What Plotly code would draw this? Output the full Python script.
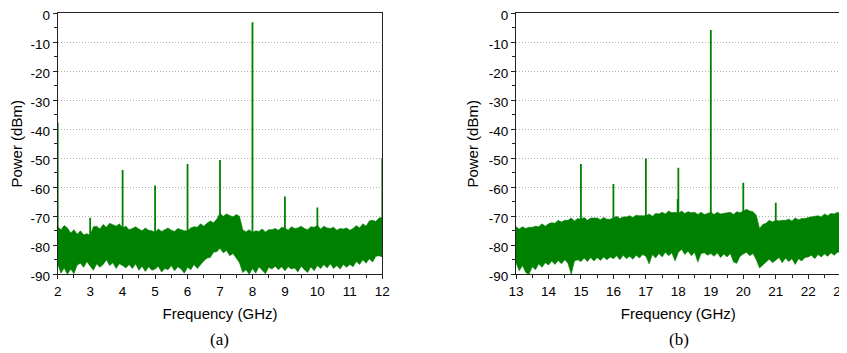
import plotly.graph_objects as go

# ---------------- data ----------------
# sampling grid of the noise-floor envelopes (GHz, 0.1 GHz step)
freq_a = [round(2.0 + 0.1 * i, 1) for i in range(101)]
freq_b = [round(13.0 + 0.1 * i, 1) for i in range(101)]

# panel (a): upper / lower envelope of the noise floor (dBm)
upper_a = [-73.5, -74.6, -73.2, -74.0, -75.8, -74.6, -76.2, -75.0, -76.4, -76.0,
           -76.5, -73.6, -73.4, -74.4, -72.8, -73.8, -72.4, -73.0, -73.4, -72.6,
           -74.0, -73.4, -74.6, -74.2, -73.6, -74.4, -75.0, -74.0, -74.8, -75.0,
           -75.5, -74.4, -75.2, -74.6, -74.0, -74.8, -75.2, -74.2, -74.6, -75.0,
           -75.0, -74.0, -73.6, -73.8, -72.6, -73.4, -72.4, -71.6, -72.2, -71.0,
           -69.0, -70.0, -69.2, -69.8, -70.2, -69.4, -70.0, -74.6, -75.4, -74.6,
           -75.6, -75.0, -75.2, -74.4, -75.4, -74.6, -74.6, -74.2, -74.8, -73.8,
           -74.0, -74.8, -73.6, -74.2, -74.0, -73.4, -74.2, -74.6, -73.6, -73.8,
           -73.2, -74.4, -73.4, -74.0, -74.2, -73.8, -74.8, -74.2, -74.4, -74.0,
           -74.8, -74.2, -73.2, -74.0, -72.6, -73.4, -71.6, -71.4, -71.8, -70.6,
           -70.4]
lower_a = [-86.5, -89.6, -87.8, -90.0, -88.2, -89.8, -86.8, -86.2, -87.6, -85.6,
           -87.2, -88.6, -86.4, -87.6, -86.6, -85.0, -87.0, -86.0, -88.0, -86.4,
           -87.0, -87.8, -86.6, -88.0, -86.4, -88.6, -87.2, -89.0, -87.4, -88.6,
           -88.2, -87.2, -89.2, -88.0, -88.4, -87.0, -88.8, -87.4, -88.2, -89.6,
           -87.6, -88.4, -86.6, -88.0, -86.8, -85.4, -84.4, -84.2, -82.4, -82.2,
           -81.0, -82.6, -81.8, -83.6, -82.8, -84.4, -86.0, -89.4, -88.4, -90.0,
           -88.0, -89.6, -87.4, -88.6, -89.8, -87.6, -88.2, -87.2, -88.4, -87.4,
           -88.8, -87.4, -88.2, -87.8, -89.2, -87.2, -88.4, -89.4, -87.4, -88.8,
           -87.0, -88.0, -86.6, -87.8, -86.4, -88.0, -87.0, -88.2, -86.6, -87.6,
           -86.6, -87.4, -85.6, -86.6, -85.0, -86.2, -84.6, -85.8, -83.8, -83.6,
           -84.0]

# panel (b)
upper_b = [-73.6, -74.4, -73.6, -74.2, -73.8, -73.8, -73.4, -73.6, -72.6, -73.4,
           -72.6, -72.2, -72.4, -71.4, -72.0, -71.4, -71.4, -70.6, -71.6, -70.8,
           -71.0, -70.4, -71.4, -70.6, -70.6, -70.6, -71.2, -70.4, -71.0, -71.0,
           -70.6, -70.0, -70.8, -70.2, -70.2, -69.8, -70.4, -69.6, -69.8, -69.8,
           -69.8, -69.2, -70.0, -69.0, -69.2, -68.6, -69.2, -68.2, -68.8, -68.6,
           -69.0, -68.2, -69.0, -68.4, -68.8, -68.6, -69.4, -68.6, -69.4, -69.0,
           -68.6, -69.4, -68.6, -69.2, -69.0, -68.8, -68.6, -69.4, -68.4, -68.8,
           -68.2, -67.6, -68.2, -68.4, -69.6, -74.2, -72.8, -72.4, -71.4, -72.0,
           -71.4, -71.6, -71.4, -71.4, -71.0, -71.6, -70.6, -71.2, -70.8, -70.8,
           -70.4, -70.2, -70.2, -69.8, -70.2, -69.2, -69.8, -69.0, -69.2, -68.6,
           -69.2]
lower_b = [-86.0, -88.8, -87.0, -89.4, -90.0, -87.4, -88.4, -86.4, -87.6, -86.0,
           -86.8, -85.4, -86.6, -85.2, -86.4, -85.0, -86.2, -90.0, -85.4, -85.0,
           -85.6, -84.4, -85.6, -84.2, -85.4, -84.2, -85.2, -84.0, -85.0, -84.0,
           -84.6, -83.6, -85.0, -83.4, -84.6, -83.8, -84.8, -83.4, -84.4, -83.2,
           -83.8, -86.4, -83.2, -84.4, -82.8, -84.0, -82.4, -83.6, -82.6, -85.4,
           -82.4, -81.4, -83.2, -82.0, -83.6, -82.4, -85.8, -82.8, -82.6, -83.4,
           -82.8, -83.8, -82.6, -84.2, -83.0, -84.0, -82.8, -85.8, -86.2, -83.8,
           -83.0, -82.4, -83.6, -82.8, -85.0, -87.8, -87.0, -85.8, -84.8, -86.0,
           -85.0, -84.2, -86.0, -84.4, -85.6, -84.6, -86.6, -84.6, -85.4, -84.2,
           -84.0, -83.4, -84.6, -83.2, -84.0, -83.0, -83.8, -82.6, -83.4, -82.4,
           -82.4]

# discrete tones (GHz, dBm)
tone_freq_a = [2.0, 3.0, 4.0, 5.0, 6.0, 7.0, 8.0, 9.0, 10.0, 12.0]
tone_level_a = [-37.7, -70.5, -54.0, -59.4, -52.0, -50.6, -3.1, -63.2, -67.0, -49.9]
tone_freq_b = [15.0, 16.0, 17.0, 17.98, 18.0, 19.0, 20.0, 21.0]
tone_level_b = [-52.0, -58.9, -50.1, -64.0, -53.3, -5.8, -58.4, -65.3]
tone_base = -80.0

y_ticks = [0, -10, -20, -30, -40, -50, -60, -70, -80, -90]
y_ticklabels = ["0", "-10", "-20", "-30", "-40", "-50", "-60", "-70", "-80", "-90"]
x_ticks_a = [2, 3, 4, 5, 6, 7, 8, 9, 10, 11, 12]
x_ticks_b = [13, 14, 15, 16, 17, 18, 19, 20, 21, 22, 23]
panel_labels = ["(a)", "(b)"]

# ---------------- figure ----------------
GREEN = "#008000"
fig = go.Figure()


def add_panel(freq, upper, lower, tf, tl, xa, ya):
    fig.add_trace(go.Scatter(
        x=list(freq) + list(freq)[::-1],
        y=list(upper) + list(lower)[::-1],
        fill="toself", fillcolor=GREEN, mode="lines",
        line=dict(color=GREEN, width=0.6),
        xaxis=xa, yaxis=ya, showlegend=False, hoverinfo="skip"))
    xs, ys = [], []
    for f, l in zip(tf, tl):
        xs += [f, f, None]
        ys += [tone_base, l, None]
    fig.add_trace(go.Scatter(
        x=xs, y=ys, mode="lines", line=dict(color=GREEN, width=1.8),
        xaxis=xa, yaxis=ya, showlegend=False))


add_panel(freq_a, upper_a, lower_a, tone_freq_a, tone_level_a, "x", "y")
add_panel(freq_b, upper_b, lower_b, tone_freq_b, tone_level_b, "x2", "y2")

FONT = "Liberation Sans, Arial, sans-serif"
OFF = 8                      # page body margin of the browser
W, H = 847 - OFF, 353 - OFF
ytop, ybot = 13.3 - OFF, 274.3 - OFF
dom_y = [(H - ybot) / H, (H - ytop) / H]
dom_a = [(57.7 - OFF) / W, (382.3 - OFF) / W]
dom_b = [(516.0 - OFF) / W, (840.7 - OFF) / W]

common_x = dict(
    automargin=False, ticklabeloverflow="allow",
    showline=True, linecolor="#222", linewidth=1, mirror=True,
    ticks="outside", ticklen=4, tickwidth=1, tickcolor="#222",
    minor=dict(ticks="outside", ticklen=3, dtick=0.5, tickcolor="#222"),
    showgrid=False, zeroline=False,
    tickfont=dict(family=FONT, size=13.5, color="black"),
    title=dict(text="Frequency (GHz)", font=dict(family=FONT, size=15, color="black"), standoff=10),
)
common_y = dict(
    automargin=False, ticklabeloverflow="allow", ticklabelshift=2,
    range=[-90, 0], tickvals=y_ticks, ticktext=y_ticklabels,
    showline=True, linecolor="#222", linewidth=1, mirror=True,
    ticks="outside", ticklen=4, tickwidth=1, tickcolor="#222",
    minor=dict(ticks="outside", ticklen=3, dtick=5, tickcolor="#222"),
    showgrid=True, gridcolor="#b0b0b0", griddash="1px,2px", gridwidth=1,
    zeroline=False,
    tickfont=dict(family=FONT, size=13.5, color="black"),
    title=dict(text="Power (dBm)", font=dict(family=FONT, size=15, color="black"), standoff=6),
)

fig.update_layout(
    width=W, height=H, margin=dict(l=0, r=0, t=0, b=0, autoexpand=False),
    paper_bgcolor="white", plot_bgcolor="white",
    xaxis=dict(common_x, domain=dom_a, range=[2, 12], tickvals=x_ticks_a, anchor="y"),
    yaxis=dict(common_y, domain=dom_y, anchor="x"),
    xaxis2=dict(common_x, domain=dom_b, range=[13, 23], tickvals=x_ticks_b, anchor="y2"),
    yaxis2=dict(common_y, domain=dom_y, anchor="x2"),
)

for txt, xc in zip(panel_labels, [219.5, 678.5]):
    fig.add_annotation(text=txt, x=(xc - OFF) / W, y=(H - (339 - OFF)) / H,
                       xref="paper", yref="paper",
                       showarrow=False, xanchor="center", yanchor="middle",
                       font=dict(family="Liberation Serif, Times New Roman, serif", size=17, color="black"))

fig.write_html("out.html")
